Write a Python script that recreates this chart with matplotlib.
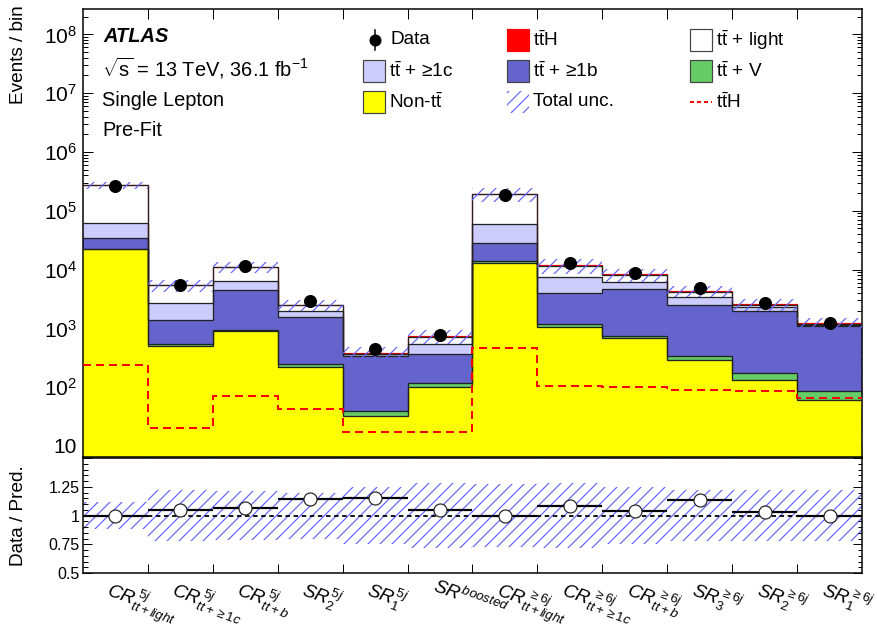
import numpy as np
import matplotlib.pyplot as plt
from matplotlib.patches import Rectangle
from matplotlib.lines import Line2D
from matplotlib.ticker import FixedLocator, FuncFormatter, LogLocator, NullFormatter, MultipleLocator

plt.rcParams['font.family'] = ['Liberation Sans', 'DejaVu Sans']
plt.rcParams['mathtext.fontset'] = 'custom'
plt.rcParams['mathtext.rm'] = 'Liberation Sans'
plt.rcParams['mathtext.it'] = 'Liberation Sans:italic'
plt.rcParams['mathtext.bf'] = 'Liberation Sans:bold'
plt.rcParams['hatch.linewidth'] = 1.2

# regions (bins)
regions = [r'$CR^{\,5j}_{tt+light}$', r'$CR^{\,5j}_{tt+\geq1c}$', r'$CR^{\,5j}_{tt+b}$',
           r'$SR^{5j}_{2}$', r'$SR^{5j}_{1}$', r'$SR^{boosted}$',
           r'$CR^{\,\geq6j}_{tt+light}$', r'$CR^{\,\geq6j}_{tt+\geq1c}$', r'$CR^{\,\geq6j}_{tt+b}$',
           r'$SR^{\geq6j}_{3}$', r'$SR^{\geq6j}_{2}$', r'$SR^{\geq6j}_{1}$']

# pre-fit yields, stacked bottom -> top
non_tt   = [22000, 510, 900, 220, 32, 100, 12800, 1050, 680, 290, 132, 60]
tt_v     = [500, 30, 45, 25, 7, 17, 1000, 130, 60, 50, 41, 26]
tt_1b    = [11500, 840, 3550, 1305, 300, 248, 14200, 2820, 3860, 2120, 1830, 1020]
tt_1c    = [29000, 1320, 1800, 400, 22, 175, 31000, 3400, 1500, 940, 300, 40]
tt_light = [207000, 2680, 4700, 510, 10, 185, 131000, 4300, 2100, 810, 180, 20]
tth      = [240, 20, 70, 42, 17, 17, 460, 104, 102, 89, 86, 65]

data     = [2.6e5, 5.5e3, 1.13e4, 2.9e3, 445, 760, 1.85e5, 1.3e4, 8.9e3, 4.8e3, 2.7e3, 1.22e3]
ratio    = [1.00, 1.05, 1.065, 1.145, 1.15, 1.045, 1.00, 1.08, 1.043, 1.138, 1.03, 1.00]
rel_unc  = [0.12, 0.22, 0.21, 0.20, 0.25, 0.28, 0.27, 0.28, 0.25, 0.22, 0.22, 0.22]

W, H = 877, 632
fig = plt.figure(figsize=(W / 72, H / 72), dpi=72)
fig.patch.set_facecolor('white')

def fx(px):
    return px / W

def fy(py):
    return 1 - py / H

ax = fig.add_axes([fx(83), fy(457), 779 / W, 448 / H])
rax = fig.add_axes([fx(83), fy(573), 779 / W, 115 / H])

edges = np.arange(len(regions) + 1)
centers = edges[:-1] + 0.5

layers = np.array([non_tt, tt_v, tt_1b, tt_1c, tt_light, tth], dtype=float)
colors = ['#ffff00', '#66cc66', '#6464cc', '#ccccff', '#ffffff', '#ff0000']
cum = np.cumsum(layers, axis=0)
total = cum[-1]

for i in range(len(layers)):
    lower = cum[i - 1] if i > 0 else np.full(len(regions), 1e-2)
    ax.stairs(cum[i], edges, baseline=lower, fill=True, color=colors[i], lw=0, zorder=2)
# signal outline first, background outlines drawn over it
ax.stairs(total, edges, baseline=None, color='#ff0000', lw=1.2, zorder=2.5)
for i in range(len(layers) - 1):
    ax.stairs(cum[i], edges, baseline=None, color='#222222', lw=1.3, zorder=3)

hatch_col = '#6464ff'
ax.stairs(total * (1 + np.array(rel_unc)), edges, baseline=total * (1 - np.array(rel_unc)),
          fill=True, facecolor='none', edgecolor=hatch_col, hatch='//', lw=0, zorder=4)

ax.stairs(tth, edges, baseline=None, color='#ff0000', lw=2, ls=(0, (4, 2.5)), zorder=5)
ax.plot(centers, data, 'o', color='black', ms=12, zorder=6)

ax.set_yscale('log')
ax.set_xlim(0, 12)
ax.set_ylim(6.5, 2.7e8)
ax.set_xticks(edges[1:-1])
ax.set_yticks([10 ** k for k in range(1, 9)])
ax.yaxis.set_minor_locator(LogLocator(base=10, subs=np.arange(2, 10), numticks=20))
ax.yaxis.set_minor_formatter(NullFormatter())
ax.yaxis.set_major_formatter(FuncFormatter(
    lambda v, p: '10' if abs(v - 10) < 1e-6 else r'$10^{%d}$' % int(round(np.log10(v)))))
ax.tick_params(which='both', direction='in', top=True, right=True, labelbottom=False,
               labelsize=21, width=1)
ax.tick_params(which='major', length=10)
ax.tick_params(which='minor', length=5)
ax.tick_params(axis='y', pad=6)
for s in ax.spines.values():
    s.set_linewidth(1.5)
ax.set_ylabel('Events / bin', fontsize=19, loc='top')
ax.yaxis.set_label_coords(-0.083, 1.009)
ax.yaxis.label.set_verticalalignment('center')

# ratio panel
unc = np.array(rel_unc)
rax.stairs(1 + unc, edges, baseline=1 - unc, fill=True, facecolor='none',
           edgecolor=hatch_col, hatch='//', lw=0, zorder=1)
rax.axhline(1, color='black', lw=1.8, ls=(0, (2.5, 2)), zorder=2)
rax.hlines(ratio, edges[:-1], edges[1:], color='black', lw=2.2, zorder=3)
rax.plot(centers, ratio, 'o', mfc='white', mec='#222222', mew=1.2, ms=13, zorder=4)
rax.set_xlim(0, 12)
rax.set_ylim(0.5, 1.5)
rax.set_xticks(edges[1:-1])
rax.set_xticklabels([])
rax.yaxis.set_major_locator(FixedLocator([0.5, 0.75, 1.0, 1.25, 1.5]))
rax.set_yticklabels(['0.5', '0.75', '1', '1.25', ''])
rax.yaxis.set_minor_locator(MultipleLocator(0.05))
rax.tick_params(which='both', direction='in', right=True, top=False, labelsize=16, width=1)
rax.tick_params(which='major', length=9)
rax.tick_params(which='minor', length=4.5)
rax.tick_params(axis='x', which='minor', bottom=False)
for s in rax.spines.values():
    s.set_linewidth(1.5)
rax.set_ylabel('Data / Pred.', fontsize=19)
rax.yaxis.set_label_coords(-0.083, 0.5)
rax.yaxis.label.set_verticalalignment('center')

for c, lab in zip(centers, regions):
    rax.text(c - 0.04, -0.03, lab, transform=rax.get_xaxis_transform(), fontsize=19,
             ha='left', va='top', rotation=-20, rotation_mode='anchor')

# ATLAS labels
fig.text(fx(103), fy(37), 'ATLAS', fontsize=20, fontweight='bold', fontstyle='italic', va='center')
fig.text(fx(102), fy(68), r'$\sqrt{\mathrm{s}}$ = 13 TeV, 36.1 fb$^{-1}$', fontsize=20, va='center')
fig.text(fx(102), fy(100), 'Single Lepton', fontsize=20, va='center')
fig.text(fx(102), fy(130), 'Pre-Fit', fontsize=20, va='center')

# legend
tt = r'$\mathrm{t\bar{t}}$'
cols = [363, 507, 690]
rows = [40, 71, 102]
boxes = [
    (1, 0, '#ff0000', '#ff0000', tt + 'H'),
    (2, 0, '#ffffff', '#444444', tt + ' + light'),
    (0, 1, '#ccccff', '#444444', tt + ' + ≥1c'),
    (1, 1, '#6464cc', '#444444', tt + ' + ≥1b'),
    (2, 1, '#66cc66', '#444444', tt + ' + V'),
    (0, 2, '#ffff00', '#444444', 'Non-' + tt),
]
for ci, ri, fc, ec, lab in boxes:
    x0, y0 = cols[ci], rows[ri]
    fig.add_artist(Rectangle((fx(x0), fy(y0 + 11)), 22 / W, 22 / H, facecolor=fc,
                             edgecolor=ec, lw=1.2, transform=fig.transFigure))
    fig.text(fx(x0 + 26), fy(y0), lab, fontsize=19, va='center')

# Data entry
fig.add_artist(Line2D([fx(375), fx(375)], [fy(30), fy(50)], color='black', lw=1.5,
                      transform=fig.transFigure))
fig.add_artist(Line2D([fx(375)], [fy(40)], marker='o', ms=11, color='black',
                      transform=fig.transFigure))
fig.text(fx(390), fy(40), 'Data', fontsize=19, va='center')

# Total unc. entry
fig.add_artist(Rectangle((fx(507), fy(113)), 22 / W, 22 / H, facecolor='none',
                         edgecolor=hatch_col, hatch='//', lw=0, transform=fig.transFigure))
fig.text(fx(533), fy(102), 'Total unc.', fontsize=19, va='center')

# ttH dashed entry
fig.add_artist(Line2D([fx(690), fx(712)], [fy(102), fy(102)], color='#ff0000', lw=2,
                      ls=(0, (2, 1.5)), transform=fig.transFigure))
fig.text(fx(716), fy(102), tt + 'H', fontsize=19, va='center')

fig.savefig('out.png', dpi=72, facecolor='white')
